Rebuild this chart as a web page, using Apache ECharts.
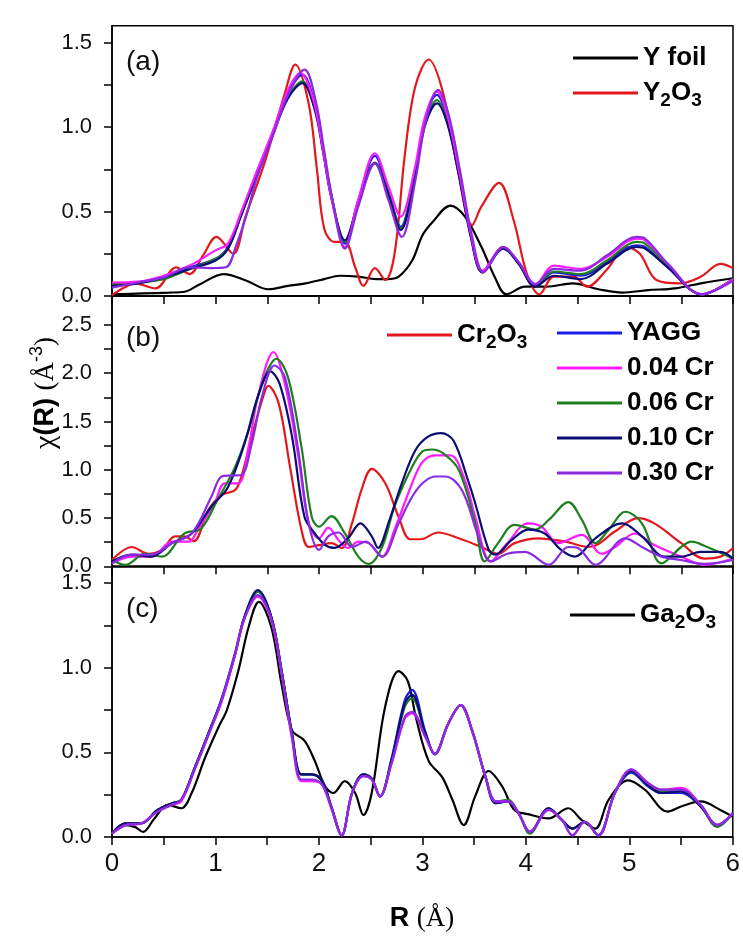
<!DOCTYPE html>
<html><head><meta charset="utf-8">
<script src="https://cdn.jsdelivr.net/npm/echarts@6/dist/echarts.min.js"></script>
<style>html,body{margin:0;padding:0;background:#fff}#c{width:743px;height:940px}</style>
</head><body><div id="c"></div>
<script>
// ---------- panel (a): Y K-edge ----------
const aYfoil = [[0,0.01],[0.3,0.015],[0.55,0.02],[0.7,0.025],[0.85,0.07],[1.08,0.13],[1.3,0.09],[1.51,0.04],[1.7,0.06],[1.87,0.075],[2.05,0.10],[2.2,0.12],[2.38,0.115],[2.55,0.10],[2.66,0.10],[2.77,0.115],[2.9,0.21],[3.0,0.36],[3.1,0.44],[3.27,0.535],[3.41,0.47],[3.57,0.29],[3.7,0.11],[3.81,0.01],[3.99,0.055],[4.2,0.055],[4.45,0.075],[4.7,0.04],[4.93,0.02],[5.18,0.035],[5.44,0.045],[5.69,0.075],[6.0,0.105]];
const aY2O3 = [[0,0.005],[0.12,0.05],[0.22,0.075],[0.42,0.045],[0.62,0.17],[0.75,0.13],[0.88,0.24],[1.01,0.35],[1.17,0.25],[1.29,0.47],[1.48,0.80],[1.67,1.20],[1.77,1.37],[1.9,1.14],[1.98,0.75],[2.05,0.40],[2.15,0.32],[2.25,0.32],[2.35,0.17],[2.43,0.06],[2.54,0.165],[2.64,0.095],[2.73,0.25],[2.83,0.84],[2.93,1.24],[3.06,1.40],[3.2,1.20],[3.34,0.75],[3.48,0.42],[3.57,0.53],[3.74,0.67],[3.88,0.45],[4.01,0.13],[4.13,0.01],[4.27,0.115],[4.46,0.115],[4.59,0.055],[4.78,0.155],[4.97,0.29],[5.1,0.25],[5.26,0.095],[5.49,0.075],[5.69,0.115],[5.88,0.19],[6.0,0.165]];
const aYAGG = [[0,0.07],[0.25,0.08],[0.5,0.115],[0.75,0.17],[1.0,0.22],[1.12,0.29],[1.25,0.49],[1.4,0.73],[1.55,0.96],[1.7,1.20],[1.84,1.31],[1.96,1.13],[2.04,0.87],[2.12,0.60],[2.25,0.31],[2.38,0.57],[2.54,0.83],[2.67,0.62],[2.79,0.41],[2.92,0.70],[3.02,1.03],[3.14,1.19],[3.24,1.05],[3.35,0.74],[3.47,0.35],[3.58,0.14],[3.78,0.29],[3.93,0.19],[4.09,0.06],[4.27,0.14],[4.53,0.12],[4.78,0.20],[5.07,0.30],[5.15,0.29],[5.37,0.17],[5.7,0.01],[6.0,0.10]];
const a004 = [[0,0.08],[0.25,0.085],[0.5,0.12],[0.75,0.18],[1.0,0.27],[1.12,0.31],[1.25,0.50],[1.4,0.74],[1.55,0.97],[1.7,1.22],[1.82,1.32],[1.95,1.15],[2.04,0.86],[2.12,0.58],[2.25,0.29],[2.38,0.57],[2.54,0.845],[2.67,0.65],[2.79,0.47],[2.92,0.74],[3.02,1.05],[3.14,1.21],[3.24,1.07],[3.35,0.75],[3.47,0.36],[3.58,0.15],[3.78,0.29],[3.93,0.20],[4.09,0.07],[4.27,0.18],[4.53,0.16],[4.78,0.23],[5.07,0.34],[5.15,0.33],[5.37,0.19],[5.7,0.01],[6.0,0.10]];
const a006 = [[0,0.07],[0.25,0.08],[0.5,0.10],[0.75,0.16],[1.0,0.22],[1.12,0.28],[1.25,0.48],[1.4,0.72],[1.55,0.95],[1.7,1.18],[1.84,1.27],[1.96,1.11],[2.04,0.86],[2.12,0.59],[2.25,0.32],[2.38,0.55],[2.54,0.79],[2.67,0.61],[2.79,0.40],[2.92,0.69],[3.02,1.01],[3.14,1.16],[3.24,1.03],[3.35,0.73],[3.47,0.35],[3.58,0.14],[3.78,0.29],[3.93,0.19],[4.09,0.06],[4.27,0.145],[4.53,0.13],[4.78,0.21],[5.07,0.32],[5.15,0.31],[5.37,0.18],[5.7,0.01],[6.0,0.10]];
const a010 = [[0,0.06],[0.25,0.075],[0.5,0.11],[0.75,0.16],[1.0,0.21],[1.12,0.28],[1.25,0.48],[1.4,0.72],[1.55,0.95],[1.7,1.17],[1.84,1.26],[1.96,1.10],[2.04,0.85],[2.12,0.58],[2.25,0.33],[2.38,0.55],[2.54,0.785],[2.67,0.60],[2.79,0.39],[2.92,0.68],[3.02,1.00],[3.14,1.14],[3.24,1.02],[3.35,0.72],[3.47,0.34],[3.58,0.14],[3.78,0.28],[3.93,0.19],[4.09,0.055],[4.27,0.12],[4.53,0.10],[4.78,0.19],[5.07,0.29],[5.15,0.28],[5.37,0.17],[5.7,0.01],[6.0,0.10]];
const a030 = [[0,0.05],[0.25,0.08],[0.5,0.11],[0.75,0.17],[0.95,0.165],[1.1,0.17],[1.2,0.30],[1.3,0.48],[1.4,0.70],[1.55,0.94],[1.7,1.19],[1.86,1.34],[1.97,1.15],[2.05,0.86],[2.13,0.57],[2.25,0.28],[2.38,0.53],[2.54,0.785],[2.67,0.57],[2.8,0.35],[2.93,0.68],[3.03,1.03],[3.15,1.22],[3.25,1.08],[3.36,0.75],[3.48,0.35],[3.59,0.14],[3.78,0.29],[3.93,0.20],[4.09,0.07],[4.27,0.16],[4.53,0.15],[4.78,0.24],[5.07,0.35],[5.15,0.34],[5.37,0.19],[5.7,0.01],[6.0,0.09]];

// ---------- panel (b): Cr K-edge ----------
const bCr2O3 = [[0,0.065],[0.19,0.2],[0.35,0.13],[0.48,0.17],[0.61,0.31],[0.7,0.31],[0.79,0.26],[0.93,0.58],[1.06,0.74],[1.19,0.79],[1.25,0.93],[1.35,1.34],[1.45,1.72],[1.51,1.87],[1.61,1.69],[1.72,1.03],[1.83,0.38],[1.9,0.20],[2.0,0.22],[2.12,0.24],[2.22,0.19],[2.32,0.45],[2.41,0.79],[2.51,1.01],[2.64,0.86],[2.77,0.51],[2.88,0.28],[2.98,0.28],[3.15,0.35],[3.35,0.29],[3.57,0.20],[3.73,0.13],[3.89,0.24],[4.12,0.29],[4.38,0.255],[4.61,0.20],[4.86,0.36],[5.08,0.50],[5.24,0.445],[5.5,0.24],[5.72,0.08],[5.88,0.10],[6.0,0.19]];
const b004 = [[0,0.03],[0.19,0.10],[0.38,0.10],[0.58,0.255],[0.74,0.255],[0.83,0.38],[0.99,0.65],[1.09,0.86],[1.22,0.86],[1.32,1.24],[1.41,1.76],[1.56,2.22],[1.67,1.89],[1.8,1.14],[1.9,0.45],[2.0,0.29],[2.09,0.40],[2.19,0.27],[2.28,0.19],[2.38,0.255],[2.48,0.24],[2.61,0.10],[2.73,0.38],[2.9,0.86],[3.0,1.08],[3.12,1.15],[3.27,1.15],[3.41,0.89],[3.51,0.51],[3.66,0.05],[3.82,0.24],[4.02,0.445],[4.15,0.41],[4.31,0.24],[4.54,0.325],[4.73,0.13],[4.86,0.20],[5.05,0.34],[5.24,0.22],[5.5,0.10],[5.72,0.015],[6.0,0.08]];
const b006 = [[0,0.065],[0.13,0.015],[0.32,0.13],[0.48,0.10],[0.7,0.34],[0.86,0.39],[1.02,0.69],[1.19,1.03],[1.32,1.41],[1.45,1.89],[1.59,2.15],[1.7,1.96],[1.83,1.24],[1.93,0.51],[2.0,0.41],[2.12,0.52],[2.25,0.34],[2.38,0.10],[2.48,0.025],[2.61,0.20],[2.73,0.62],[2.9,1.03],[3.0,1.19],[3.09,1.21],[3.2,1.17],[3.35,1.0],[3.51,0.445],[3.6,0.05],[3.73,0.24],[3.89,0.43],[4.09,0.38],[4.22,0.48],[4.41,0.665],[4.54,0.48],[4.67,0.24],[4.8,0.38],[4.96,0.565],[5.12,0.445],[5.31,0.03],[5.5,0.20],[5.6,0.255],[5.75,0.20],[6.0,0.08]];
const b010 = [[0,0.05],[0.19,0.12],[0.38,0.10],[0.58,0.24],[0.77,0.34],[0.96,0.62],[1.12,0.82],[1.28,1.27],[1.41,1.76],[1.53,2.02],[1.62,1.89],[1.74,1.34],[1.86,0.51],[1.96,0.34],[2.06,0.22],[2.15,0.19],[2.28,0.29],[2.4,0.445],[2.51,0.31],[2.57,0.19],[2.67,0.445],[2.8,0.86],[2.93,1.2],[3.05,1.34],[3.18,1.38],[3.3,1.30],[3.44,0.89],[3.51,0.65],[3.64,0.17],[3.7,0.12],[3.86,0.27],[4.02,0.38],[4.18,0.34],[4.34,0.17],[4.47,0.10],[4.67,0.29],[4.93,0.445],[5.12,0.31],[5.34,0.10],[5.5,0.10],[5.69,0.15],[5.88,0.15],[6.0,0.08]];
const b030 = [[0,0.03],[0.19,0.12],[0.38,0.12],[0.58,0.24],[0.77,0.34],[0.96,0.72],[1.06,0.93],[1.16,0.94],[1.25,0.945],[1.35,1.27],[1.45,1.76],[1.57,2.08],[1.67,1.96],[1.8,1.2],[1.9,0.445],[2.0,0.17],[2.09,0.31],[2.19,0.35],[2.32,0.20],[2.45,0.255],[2.61,0.10],[2.77,0.445],[2.9,0.72],[3.0,0.86],[3.12,0.93],[3.22,0.93],[3.38,0.79],[3.54,0.31],[3.66,0.05],[3.82,0.13],[3.99,0.15],[4.22,0.015],[4.41,0.20],[4.5,0.19],[4.67,0.015],[4.96,0.29],[5.12,0.20],[5.31,0.10],[5.5,0.065],[5.72,0.025],[6.0,0.065]];

// ---------- panel (c): Ga K-edge ----------
const cGa2O3 = [[0,0.02],[0.13,0.07],[0.22,0.06],[0.3,0.03],[0.41,0.11],[0.54,0.19],[0.67,0.17],[0.77,0.26],[0.9,0.47],[1.03,0.65],[1.11,0.75],[1.22,0.98],[1.32,1.24],[1.42,1.39],[1.54,1.24],[1.64,0.90],[1.74,0.63],[1.86,0.57],[1.96,0.45],[2.06,0.30],[2.14,0.26],[2.25,0.33],[2.35,0.26],[2.43,0.13],[2.51,0.26],[2.64,0.77],[2.77,0.98],[2.86,0.92],[2.94,0.70],[3.06,0.45],[3.19,0.355],[3.29,0.22],[3.4,0.07],[3.51,0.24],[3.64,0.39],[3.77,0.30],[3.89,0.16],[4.02,0.135],[4.22,0.11],[4.41,0.17],[4.54,0.10],[4.67,0.05],[4.8,0.22],[4.99,0.335],[5.15,0.28],[5.37,0.15],[5.5,0.18],[5.69,0.21],[5.88,0.16],[6.0,0.12]];
const cYAGG = [[0,0.02],[0.13,0.08],[0.28,0.08],[0.44,0.16],[0.58,0.20],[0.67,0.22],[0.8,0.41],[0.93,0.61],[1.06,0.82],[1.19,1.09],[1.28,1.30],[1.41,1.45],[1.54,1.30],[1.64,0.98],[1.74,0.61],[1.83,0.37],[1.93,0.37],[2.03,0.33],[2.12,0.18],[2.22,0.01],[2.32,0.26],[2.43,0.37],[2.51,0.345],[2.59,0.24],[2.7,0.46],[2.83,0.81],[2.9,0.87],[3.03,0.62],[3.12,0.49],[3.25,0.67],[3.37,0.78],[3.48,0.63],[3.61,0.355],[3.71,0.20],[3.83,0.21],[3.93,0.14],[4.04,0.03],[4.22,0.17],[4.35,0.10],[4.45,0.05],[4.57,0.09],[4.7,0.01],[4.86,0.26],[5.02,0.38],[5.18,0.30],[5.31,0.26],[5.5,0.26],[5.69,0.18],[5.85,0.07],[6.0,0.14]];
const c004 = [[0,0.02],[0.13,0.07],[0.28,0.08],[0.44,0.15],[0.58,0.19],[0.67,0.21],[0.8,0.40],[0.93,0.60],[1.06,0.80],[1.19,1.08],[1.28,1.29],[1.41,1.42],[1.54,1.28],[1.64,0.96],[1.74,0.58],[1.83,0.33],[1.93,0.33],[2.03,0.31],[2.12,0.17],[2.22,0.01],[2.32,0.26],[2.43,0.36],[2.51,0.34],[2.59,0.24],[2.7,0.43],[2.83,0.70],[2.9,0.73],[3.03,0.59],[3.12,0.49],[3.25,0.67],[3.37,0.78],[3.48,0.63],[3.61,0.355],[3.71,0.21],[3.83,0.21],[3.93,0.14],[4.04,0.03],[4.22,0.16],[4.35,0.10],[4.45,0.01],[4.57,0.09],[4.7,0.01],[4.86,0.26],[5.02,0.40],[5.18,0.32],[5.31,0.28],[5.5,0.29],[5.69,0.19],[5.85,0.07],[6.0,0.14]];
const c006 = [[0,0.02],[0.13,0.08],[0.28,0.08],[0.44,0.16],[0.58,0.20],[0.67,0.22],[0.8,0.41],[0.93,0.61],[1.06,0.81],[1.19,1.08],[1.28,1.30],[1.41,1.45],[1.54,1.30],[1.64,0.98],[1.74,0.61],[1.83,0.37],[1.93,0.37],[2.03,0.33],[2.12,0.18],[2.22,0.01],[2.32,0.26],[2.43,0.37],[2.51,0.345],[2.59,0.24],[2.7,0.45],[2.83,0.77],[2.9,0.82],[3.03,0.61],[3.12,0.49],[3.25,0.67],[3.37,0.78],[3.48,0.63],[3.61,0.355],[3.71,0.21],[3.83,0.22],[3.93,0.14],[4.04,0.02],[4.22,0.17],[4.35,0.10],[4.45,0.05],[4.57,0.09],[4.7,0.01],[4.86,0.26],[5.02,0.39],[5.18,0.31],[5.31,0.27],[5.5,0.27],[5.69,0.18],[5.85,0.06],[6.0,0.14]];
const c010 = [[0,0.02],[0.13,0.08],[0.28,0.08],[0.44,0.16],[0.58,0.20],[0.67,0.22],[0.8,0.41],[0.93,0.61],[1.06,0.81],[1.19,1.08],[1.28,1.30],[1.41,1.46],[1.54,1.30],[1.64,0.98],[1.74,0.61],[1.83,0.37],[1.93,0.37],[2.03,0.33],[2.12,0.18],[2.22,0.01],[2.32,0.26],[2.43,0.37],[2.51,0.345],[2.59,0.24],[2.7,0.45],[2.83,0.79],[2.9,0.84],[3.03,0.61],[3.12,0.49],[3.25,0.67],[3.37,0.78],[3.48,0.63],[3.61,0.355],[3.71,0.20],[3.83,0.21],[3.93,0.14],[4.04,0.03],[4.22,0.17],[4.35,0.10],[4.45,0.05],[4.57,0.09],[4.7,0.01],[4.86,0.26],[5.02,0.39],[5.18,0.305],[5.31,0.26],[5.5,0.27],[5.69,0.18],[5.85,0.07],[6.0,0.14]];
const c030 = [[0,0.02],[0.13,0.07],[0.28,0.08],[0.44,0.15],[0.58,0.19],[0.67,0.22],[0.8,0.40],[0.93,0.60],[1.06,0.81],[1.19,1.08],[1.28,1.29],[1.41,1.43],[1.54,1.29],[1.64,0.97],[1.74,0.59],[1.83,0.34],[1.93,0.34],[2.03,0.31],[2.12,0.17],[2.22,0.01],[2.32,0.26],[2.43,0.36],[2.51,0.34],[2.59,0.24],[2.7,0.43],[2.83,0.71],[2.9,0.74],[3.03,0.59],[3.12,0.49],[3.25,0.67],[3.37,0.78],[3.48,0.63],[3.61,0.355],[3.71,0.21],[3.83,0.21],[3.93,0.14],[4.04,0.03],[4.22,0.16],[4.35,0.10],[4.45,0.01],[4.57,0.09],[4.7,0.01],[4.86,0.26],[5.02,0.40],[5.18,0.32],[5.31,0.28],[5.5,0.28],[5.69,0.19],[5.85,0.07],[6.0,0.14]];

// ---------- tick labels ----------
const xTickLabels = [0,1,2,3,4,5,6];
const xTicks = [0,0.5,1,1.5,2,2.5,3,3.5,4,4.5,5,5.5,6];
const yLabelsAC = [0,0.5,1.0,1.5];
const yTicksAC = [0,0.25,0.5,0.75,1.0,1.25,1.5];
const yLabelsB = [0,0.5,1.0,1.5,2.0,2.5];
const yTicksB = [0,0.25,0.5,0.75,1.0,1.25,1.5,1.75,2.0,2.25,2.5];

const COL = {black:'#000000', red:'#e3171c', blue:'#1c1ce6', magenta:'#ff1aff', green:'#1f7f1f', navy:'#0c0c75', violet:'#8a2be2'};

const chart = echarts.init(document.getElementById('c'), null, {renderer:'canvas'});

const grids = [
  {left:112, top:25.7, width:621, height:270.3},
  {left:112, top:296, width:621, height:270.3},
  {left:112, top:566.3, width:621, height:270.7}
].map(g => Object.assign(g, {show:true, borderColor:'#000', borderWidth:1.5, backgroundColor:'transparent'}));

const sansB = 'Liberation Sans, Arial, sans-serif';
const serif = 'Liberation Serif, Times New Roman, serif';

const axisLineStyle = {color:'#000', width:1.5};
const xAxes = [0,1,2].map(i => ({
  type:'value', gridIndex:i, min:0, max:6, interval:0.5,
  axisLine:{show:true, onZero:false, lineStyle:axisLineStyle},
  axisTick:{show:true, inside:false, length:8, lineStyle:axisLineStyle, customValues:xTicks},
  axisLabel:{show:i===2, customValues:xTickLabels, fontSize:26, color:'#111', margin:14, fontFamily:sansB},
  splitLine:{show:false}
}));
const yMax = [1.6, 2.8, 1.6];
const yAxes = [0,1,2].map(i => ({
  type:'value', gridIndex:i, min:0, max:yMax[i], interval:0.25,
  axisLine:{show:true, onZero:false, lineStyle:axisLineStyle},
  axisTick:{show:true, inside:false, length:8, lineStyle:axisLineStyle, customValues: i===1 ? yTicksB : yTicksAC},
  axisLabel:{customValues: i===1 ? yLabelsB : yLabelsAC, formatter: v => v.toFixed(1), fontSize:22, color:'#111', margin:20, fontFamily:sansB},
  splitLine:{show:false}
}));

function mk(name, data, color, idx, z) {
  return {
    name, type:'line', xAxisIndex:idx, yAxisIndex:idx, data,
    symbol:'none', showSymbol:false, smooth:0.35, z: z||2,
    lineStyle:{color, width:2.2}, itemStyle:{color}, animation:false, silent:true
  };
}

const series = [
  mk('Y foil', aYfoil, COL.black, 0, 2),
  mk('Y2O3', aY2O3, COL.red, 0, 2),
  mk('YAGG', aYAGG, COL.blue, 0, 3),
  mk('0.06 Cr', a006, COL.green, 0, 3),
  mk('0.10 Cr', a010, COL.navy, 0, 3),
  mk('0.04 Cr', a004, COL.magenta, 0, 3),
  mk('0.30 Cr', a030, COL.violet, 0, 3),

  mk('Cr2O3', bCr2O3, COL.red, 1, 2),
  mk('0.04 Cr', b004, COL.magenta, 1, 3),
  mk('0.06 Cr', b006, COL.green, 1, 3),
  mk('0.10 Cr', b010, COL.navy, 1, 3),
  mk('0.30 Cr', b030, COL.violet, 1, 3),

  mk('Ga2O3', cGa2O3, COL.black, 2, 2),
  mk('YAGG', cYAGG, COL.blue, 2, 3),
  mk('0.06 Cr', c006, COL.green, 2, 3),
  mk('0.10 Cr', c010, COL.navy, 2, 3),
  mk('0.04 Cr', c004, COL.magenta, 2, 3),
  mk('0.30 Cr', c030, COL.violet, 2, 3)
];

const subName = {'Y2O3':'Y{s|2}O{s|3}', 'Cr2O3':'Cr{s|2}O{s|3}', 'Ga2O3':'Ga{s|2}O{s|3}'};
const legendText = {
  fontSize:26, fontWeight:'bold', color:'#000', lineHeight:34, fontFamily:sansB,
  rich:{s:{fontSize:19, fontWeight:'bold', color:'#000', lineHeight:16, verticalAlign:'bottom', fontFamily:sansB}}
};
function mkLegend(data, left, top) {
  return {
    data, left, top, orient:'vertical', itemWidth:65, itemHeight:3, itemGap:1,
    icon:'rect', selectedMode:false, textStyle:legendText,
    formatter: n => subName[n] || n, padding:0
  };
}

const option = {
  backgroundColor:'#ffffff',
  animation:false,
  grid: grids,
  xAxis: xAxes,
  yAxis: yAxes,
  legend: [
    mkLegend(['Y foil','Y2O3'], 573, 41),
    mkLegend(['Cr2O3'], 387, 318),
    mkLegend(['YAGG','0.04 Cr','0.06 Cr','0.10 Cr','0.30 Cr'], 557, 316),
    mkLegend(['Ga2O3'], 570, 598)
  ],
  graphic: [
    {type:'text', left:126, top:48, style:{text:'(a)', fontSize:28, fill:'#111', fontFamily:sansB}},
    {type:'text', left:126, top:324, style:{text:'(b)', fontSize:28, fill:'#111', fontFamily:sansB}},
    {type:'text', left:126, top:595, style:{text:'(c)', fontSize:28, fill:'#111', fontFamily:sansB}},
    {type:'text', x:46, y:393, rotation:Math.PI/2,
      style:{text:'{c|χ}{b|(R) }{s|(Å}{u|-3}{s|)}', align:'center', verticalAlign:'middle',
        rich:{
          c:{fontSize:30, fontFamily:serif, fill:'#000', lineHeight:36},
          b:{fontSize:27, fontWeight:'bold', fontFamily:sansB, fill:'#000', lineHeight:36},
          s:{fontSize:27, fontFamily:serif, fill:'#000', lineHeight:36},
          u:{fontSize:18, fontFamily:sansB, fill:'#000', lineHeight:16, verticalAlign:'top'}
        }}},
    {type:'text', x:422, y:919,
      style:{text:'{b|R }{s|(Å)}', align:'center', verticalAlign:'middle',
        rich:{
          b:{fontSize:27, fontWeight:'bold', fontFamily:sansB, fill:'#000'},
          s:{fontSize:27, fontFamily:serif, fill:'#000'}
        }}}
  ],
  series
};
chart.setOption(option);
</script></body></html>
